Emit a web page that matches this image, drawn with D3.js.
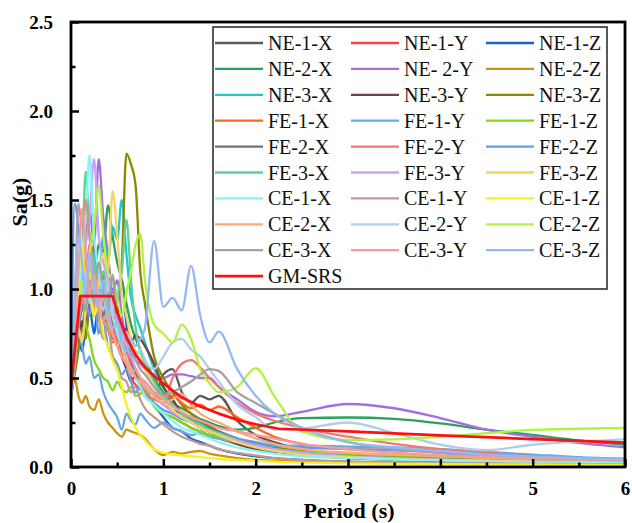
<!DOCTYPE html>
<html>
<head>
<meta charset="utf-8">
<script src="https://cdn.jsdelivr.net/npm/d3@7"></script>
<style>
  body { margin: 0; background: #fff; }
  svg { display: block; }
  text { font-family: "Liberation Serif", "Times New Roman", serif; }
</style>
</head>
<body>
<svg id="chart" width="632" height="523"></svg>
<script>
// Period grid (s) shared by all recorded response spectra
const periods = [0, 0.04, 0.08, 0.12, 0.16, 0.2, 0.25, 0.3, 0.35, 0.4, 0.45, 0.5, 0.55, 0.6, 0.65, 0.7, 0.75, 0.8, 0.9, 1.0,
                 1.1, 1.2, 1.3, 1.4, 1.5, 1.6, 1.8, 2.0, 2.2, 2.5, 3.0, 3.5, 4.0, 4.5, 5.0, 5.5, 6.0];

// Spectral acceleration Sa (g) of each record component
const ne1x = [0.45,0.62,0.85,0.78,0.95,1.05,0.88,1.12,0.92,0.80,0.86,0.70,0.62,0.55,0.48,0.52,0.46,0.42,0.38,0.52,0.55,0.42,0.36,0.40,0.38,0.40,0.26,0.18,0.14,0.10,0.07,0.055,0.045,0.038,0.032,0.028,0.025];
const ne1y = [0.48,0.70,1.05,0.92,1.20,1.02,1.25,0.95,1.08,0.88,0.72,0.80,0.62,0.58,0.50,0.46,0.44,0.40,0.35,0.30,0.28,0.25,0.22,0.20,0.18,0.16,0.13,0.10,0.085,0.07,0.055,0.045,0.04,0.035,0.03,0.027,0.025];
const ne1z = [0.40,0.55,0.72,0.65,0.80,0.90,0.75,0.95,0.82,0.88,1.00,0.92,1.05,0.80,0.62,0.55,0.50,0.45,0.35,0.28,0.22,0.20,0.16,0.14,0.12,0.10,0.075,0.06,0.05,0.04,0.03,0.025,0.02,0.018,0.016,0.015,0.014];
const ne2x = [0.42,0.58,0.75,0.90,0.85,1.10,1.05,1.25,1.20,1.47,1.30,1.15,1.05,0.92,0.80,0.72,0.66,0.60,0.50,0.42,0.36,0.33,0.30,0.27,0.25,0.23,0.21,0.22,0.25,0.275,0.278,0.27,0.245,0.21,0.18,0.15,0.125];
const ne2y = [0.45,0.62,0.88,1.05,1.30,1.45,1.25,1.73,1.40,1.20,0.98,1.05,0.85,0.72,0.66,0.60,0.58,0.55,0.52,0.50,0.52,0.52,0.51,0.50,0.50,0.45,0.38,0.31,0.285,0.31,0.354,0.33,0.275,0.21,0.17,0.135,0.11];
const ne2z = [0.38,0.50,0.40,0.36,0.40,0.34,0.32,0.38,0.30,0.25,0.22,0.19,0.17,0.21,0.20,0.19,0.18,0.16,0.10,0.067,0.085,0.075,0.085,0.09,0.075,0.065,0.05,0.04,0.035,0.03,0.025,0.02,0.018,0.016,0.015,0.014,0.013];
const ne3x = [0.45,0.60,0.80,0.95,0.88,1.10,1.20,1.05,1.30,1.15,1.35,1.28,1.50,1.20,0.95,0.85,0.78,0.70,0.55,0.45,0.38,0.30,0.27,0.24,0.21,0.19,0.15,0.12,0.10,0.08,0.06,0.05,0.045,0.04,0.035,0.03,0.028];
const ne3y = [0.42,0.55,0.70,0.82,0.75,0.92,0.85,1.00,0.88,0.95,0.80,0.90,0.72,0.78,0.70,0.74,0.72,0.68,0.58,0.45,0.38,0.30,0.26,0.22,0.20,0.17,0.13,0.10,0.085,0.07,0.05,0.04,0.035,0.03,0.027,0.025,0.022];
const ne3z = [0.40,0.52,0.65,0.78,0.72,0.90,0.85,0.98,1.02,0.95,1.05,0.95,1.15,1.76,1.70,1.58,1.10,0.92,0.62,0.50,0.42,0.35,0.30,0.26,0.23,0.20,0.16,0.13,0.11,0.09,0.07,0.06,0.05,0.045,0.04,0.035,0.03];
const fe1x = [0.46,0.62,0.80,0.92,0.85,1.00,0.90,0.82,0.95,0.78,0.70,0.74,0.62,0.68,0.58,0.55,0.50,0.48,0.42,0.38,0.40,0.36,0.33,0.35,0.32,0.34,0.28,0.22,0.17,0.13,0.10,0.095,0.08,0.06,0.05,0.045,0.04];
const fe1y = [0.45,0.62,0.75,0.68,0.58,0.62,0.50,0.52,0.42,0.36,0.32,0.28,0.21,0.30,0.26,0.24,0.30,0.27,0.22,0.25,0.22,0.20,0.18,0.19,0.17,0.16,0.14,0.13,0.12,0.12,0.115,0.11,0.10,0.085,0.07,0.055,0.045];
const fe1z = [0.42,0.70,1.20,0.95,0.80,0.72,0.60,0.55,0.50,0.48,0.43,0.48,0.44,0.42,0.45,0.40,0.41,0.44,0.34,0.30,0.28,0.25,0.22,0.20,0.18,0.17,0.14,0.12,0.10,0.085,0.075,0.065,0.06,0.055,0.05,0.045,0.04];
const fe2x = [0.44,0.60,0.78,0.90,1.02,0.88,1.10,0.95,0.85,0.98,0.80,0.72,0.78,0.65,0.60,0.52,0.48,0.45,0.40,0.35,0.32,0.30,0.28,0.25,0.22,0.20,0.16,0.12,0.10,0.08,0.06,0.05,0.04,0.035,0.03,0.028,0.025];
const fe2y = [0.50,0.72,0.95,1.10,1.02,1.25,1.05,0.92,1.00,0.85,0.78,0.70,0.62,0.66,0.55,0.50,0.46,0.42,0.38,0.36,0.50,0.58,0.60,0.56,0.50,0.45,0.36,0.30,0.26,0.22,0.17,0.13,0.10,0.08,0.06,0.05,0.045];
const fe2z = [0.40,1.48,1.35,1.10,0.95,0.85,0.98,0.75,0.82,0.68,0.62,0.58,0.52,0.55,0.48,0.42,0.45,0.40,0.36,0.32,0.30,0.27,0.25,0.22,0.20,0.19,0.16,0.14,0.12,0.11,0.10,0.095,0.085,0.07,0.06,0.05,0.045];
const fe3x = [0.48,0.70,0.98,1.20,1.66,1.30,1.15,1.00,1.10,0.92,0.85,0.95,1.10,1.39,1.05,0.78,0.65,0.58,0.48,0.40,0.35,0.30,0.26,0.24,0.21,0.19,0.15,0.12,0.10,0.08,0.06,0.05,0.042,0.036,0.03,0.027,0.025];
const fe3y = [0.46,0.65,0.90,1.10,1.25,1.40,1.73,1.30,1.15,1.05,0.90,0.82,0.75,0.68,0.62,0.55,0.50,0.46,0.40,0.35,0.31,0.28,0.25,0.22,0.20,0.18,0.15,0.12,0.10,0.08,0.06,0.05,0.04,0.035,0.03,0.027,0.024];
const fe3z = [0.42,0.58,0.78,0.70,0.88,0.95,0.85,1.05,1.20,1.10,1.55,1.30,0.98,0.85,0.72,0.65,0.60,0.55,0.45,0.38,0.32,0.28,0.25,0.22,0.20,0.18,0.14,0.11,0.09,0.07,0.055,0.045,0.04,0.035,0.03,0.027,0.025];
const ce1x = [0.45,0.68,0.95,1.20,1.40,1.75,1.30,1.10,0.95,1.02,0.85,0.75,0.68,0.60,0.55,0.50,0.45,0.40,0.35,0.30,0.26,0.22,0.20,0.18,0.16,0.14,0.11,0.09,0.075,0.06,0.05,0.042,0.036,0.03,0.027,0.024,0.022];
const ce1y = [0.42,0.90,1.48,1.35,1.50,1.30,1.05,0.85,0.72,0.80,0.62,0.55,0.50,0.48,0.42,0.45,0.38,0.33,0.28,0.24,0.20,0.17,0.15,0.13,0.12,0.10,0.08,0.065,0.05,0.04,0.03,0.025,0.022,0.02,0.018,0.016,0.015];
const ce1z = [0.40,0.72,1.05,1.25,0.98,1.10,0.85,0.92,0.75,0.68,0.60,0.55,0.45,0.35,0.28,0.22,0.18,0.15,0.10,0.08,0.07,0.065,0.06,0.055,0.05,0.045,0.04,0.035,0.03,0.025,0.02,0.018,0.016,0.015,0.014,0.013,0.012];
const ce2x = [0.44,0.62,0.85,1.00,0.92,1.15,0.98,0.88,0.95,0.82,0.75,0.68,0.72,0.60,0.55,0.50,0.48,0.45,0.40,0.36,0.38,0.41,0.35,0.30,0.27,0.25,0.20,0.16,0.13,0.10,0.08,0.07,0.06,0.05,0.045,0.04,0.038];
const ce2y = [0.40,0.58,0.80,0.95,1.10,0.92,1.05,0.98,0.88,1.02,0.85,0.80,0.72,0.76,0.68,0.62,0.66,0.60,0.55,0.62,0.70,0.72,0.66,0.62,0.55,0.48,0.35,0.28,0.21,0.215,0.25,0.19,0.125,0.095,0.125,0.142,0.155];
const ce2z = [0.44,0.62,0.85,1.05,0.98,1.20,1.35,1.58,1.30,1.10,1.05,0.95,0.85,0.98,1.10,1.25,1.31,1.05,0.80,0.75,0.70,0.80,0.72,0.55,0.47,0.42,0.45,0.555,0.40,0.20,0.152,0.155,0.17,0.19,0.208,0.215,0.22];
const ce3x = [0.42,0.58,0.80,0.95,0.88,1.05,0.92,1.15,0.98,0.90,1.08,0.85,0.78,0.72,0.66,0.60,0.55,0.52,0.45,0.40,0.42,0.45,0.48,0.52,0.55,0.54,0.42,0.36,0.30,0.22,0.14,0.10,0.08,0.06,0.05,0.045,0.04];
const ce3y = [0.48,0.75,1.10,1.45,1.20,0.98,1.08,0.90,0.82,0.88,0.75,0.68,0.62,0.58,0.52,0.55,0.50,0.48,0.42,0.38,0.34,0.31,0.28,0.26,0.24,0.22,0.20,0.18,0.16,0.13,0.10,0.08,0.065,0.055,0.05,0.045,0.04];
const ce3z = [0.40,0.95,1.30,1.15,0.98,1.20,1.02,0.90,1.05,0.85,0.78,0.82,0.70,0.65,0.72,0.68,0.72,0.78,1.27,0.90,0.95,0.88,1.13,0.85,0.70,0.76,0.55,0.40,0.30,0.22,0.14,0.11,0.09,0.07,0.06,0.05,0.045];

// Design spectrum (GM-SRS)
const gmPeriods = [0, 0.1, 0.45, 0.5, 0.55, 0.6, 0.7, 0.8, 0.9, 1.0, 1.2, 1.4, 1.6, 1.8, 2.0, 2.25, 3.0, 4.0, 5.0, 6.0];
const gmValues  = [0.45, 0.96, 0.96, 0.87, 0.80, 0.73, 0.63, 0.56, 0.51, 0.47, 0.39, 0.34, 0.30, 0.265, 0.24, 0.215, 0.20, 0.178, 0.157, 0.137];

const seriesNames = ["NE-1-X","NE-1-Y","NE-1-Z","NE-2-X","NE- 2-Y","NE-2-Z","NE-3-X","NE-3-Y","NE-3-Z",
                     "FE-1-X","FE-1-Y","FE-1-Z","FE-2-X","FE-2-Y","FE-2-Z","FE-3-X","FE-3-Y","FE-3-Z",
                     "CE-1-X","CE-1-Y","CE-1-Z","CE-2-X","CE-2-Y","CE-2-Z","CE-3-X","CE-3-Y","CE-3-Z"];
const seriesValues = [ne1x, ne1y, ne1z, ne2x, ne2y, ne2z, ne3x, ne3y, ne3z,
                      fe1x, fe1y, fe1z, fe2x, fe2y, fe2z, fe3x, fe3y, fe3z,
                      ce1x, ce1y, ce1z, ce2x, ce2y, ce2z, ce3x, ce3y, ce3z];
const seriesColors = ["#595959","#f24444","#1466d6","#27a35a","#a66de0","#c99512","#1fc9c9","#6f4343","#8a8a00",
                      "#ff661f","#6aa9e0","#7fd818","#727272","#f27676","#5e9cf0","#62d190","#c9a2f2","#f7d266",
                      "#84f5f5","#c29a92","#f7f022","#f8a97b","#b3cde8","#b2f242","#a3a3a3","#f79a9a","#93b9f2"];
const gmName = "GM-SRS";
const gmColor = "#ff1010";

const xMajor = [0, 1, 2, 3, 4, 5, 6];
const xMinor = [0.5, 1.5, 2.5, 3.5, 4.5, 5.5];
const yMajor = [0, 0.5, 1.0, 1.5, 2.0, 2.5];
const yMinor = [0.25, 0.75, 1.25, 1.75, 2.25];

const svg = d3.select("#chart");
const plot = { left: 71, right: 625, top: 22, bottom: 467 };

const x = d3.scaleLinear().domain([0, 6]).range([plot.left, plot.right]);
const y = d3.scaleLinear().domain([0, 2.5]).range([plot.bottom, plot.top]);

svg.append("defs").append("clipPath").attr("id", "plot-clip")
  .append("rect")
  .attr("x", plot.left).attr("y", plot.top)
  .attr("width", plot.right - plot.left).attr("height", plot.bottom - plot.top);

const curves = svg.append("g").attr("clip-path", "url(#plot-clip)");

const specLine = d3.line()
  .x((d, i) => x(periods[i]))
  .y(d => y(d))
  .curve(d3.curveMonotoneX);

seriesValues.forEach((vals, k) => {
  curves.append("path")
    .attr("d", specLine(vals))
    .attr("fill", "none")
    .attr("stroke", seriesColors[k])
    .attr("stroke-width", 2.3)
    .attr("stroke-linejoin", "round");
});

const gmLine = d3.line()
  .x((d, i) => x(gmPeriods[i]))
  .y(d => y(d));

curves.append("path")
  .attr("d", gmLine(gmValues))
  .attr("fill", "none")
  .attr("stroke", gmColor)
  .attr("stroke-width", 2.7)
  .attr("stroke-linejoin", "round");

// Axes: ticks point into the plot
const tickFont = 19;
svg.append("g").attr("transform", `translate(0,${plot.bottom})`)
  .call(d3.axisBottom(x).tickValues(xMajor).tickFormat(d3.format("d"))
        .tickSizeInner(-8).tickSizeOuter(0).tickPadding(15));
svg.append("g").attr("transform", `translate(0,${plot.bottom})`)
  .call(d3.axisBottom(x).tickValues(xMinor).tickFormat("")
        .tickSizeInner(-4.5).tickSizeOuter(0));

svg.append("g").attr("transform", `translate(${plot.left},0)`)
  .call(d3.axisLeft(y).tickValues(yMajor).tickFormat(d3.format(".1f"))
        .tickSizeInner(-8).tickSizeOuter(0).tickPadding(18));
svg.append("g").attr("transform", `translate(${plot.left},0)`)
  .call(d3.axisLeft(y).tickValues(yMinor).tickFormat("")
        .tickSizeInner(-4.5).tickSizeOuter(0));

svg.selectAll(".domain").remove();
svg.selectAll(".tick line").attr("stroke", "#000").attr("stroke-width", 2.5);
svg.selectAll(".tick text")
  .attr("font-family", "Liberation Serif, Times New Roman, serif")
  .attr("font-size", tickFont).attr("font-weight", "bold").attr("fill", "#000");

// Plot frame
svg.append("rect")
  .attr("x", plot.left).attr("y", plot.top)
  .attr("width", plot.right - plot.left).attr("height", plot.bottom - plot.top)
  .attr("fill", "none").attr("stroke", "#000").attr("stroke-width", 2.8);

// Axis titles
svg.append("text")
  .attr("x", (plot.left + plot.right) / 2 + 1).attr("y", 518)
  .attr("text-anchor", "middle")
  .attr("font-size", 22).attr("font-weight", "bold")
  .text("Period (s)");

svg.append("text")
  .attr("transform", "translate(27,202) rotate(-90)")
  .attr("text-anchor", "middle")
  .attr("font-size", 22).attr("font-weight", "bold")
  .text("Sa(g)");

// Legend
const legend = svg.append("g");
legend.append("rect")
  .attr("x", 213).attr("y", 27).attr("width", 394).attr("height", 262)
  .attr("fill", "#fff").attr("stroke", "#222").attr("stroke-width", 1.5);

const colX = [215, 351, 486];
const rowY0 = 43, rowStep = 25.9;
const legendItems = seriesNames.map((n, k) => ({ name: n, color: seriesColors[k], w: 2.3 }))
  .concat([{ name: gmName, color: gmColor, w: 2.7 }]);

legendItems.forEach((it, k) => {
  const col = k % 3, row = Math.floor(k / 3);
  const cy = rowY0 + row * rowStep;
  legend.append("line")
    .attr("x1", colX[col]).attr("x2", colX[col] + 48)
    .attr("y1", cy).attr("y2", cy)
    .attr("stroke", it.color).attr("stroke-width", it.w);
  legend.append("text")
    .attr("x", colX[col] + 53).attr("y", cy)
    .attr("dy", "0.35em")
    .attr("font-size", 20)
    .attr("fill", "#111")
    .text(it.name);
});
</script>
</body>
</html>
